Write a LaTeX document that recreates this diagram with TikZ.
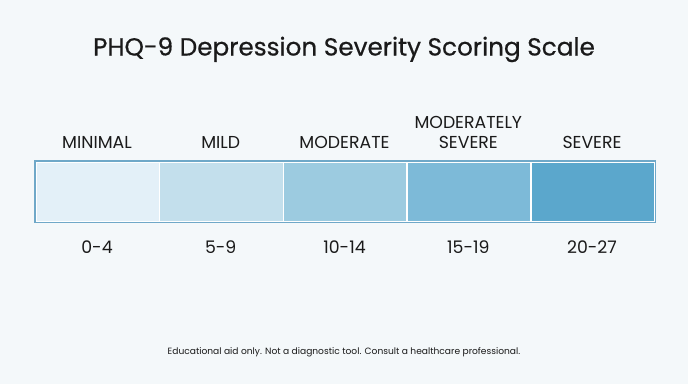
\documentclass[tikz,border=0pt]{standalone}
\usepackage{fontspec}
\setmainfont{Poppins}
\newfontfamily\titlefont[FakeBold=0.6]{Poppins}
\definecolor{bg}{HTML}{F4F8FA}
\definecolor{sA}{HTML}{E3F0F8}
\definecolor{sB}{HTML}{C3DFEC}
\definecolor{sC}{HTML}{9CCBE0}
\definecolor{sD}{HTML}{7DBAD8}
\definecolor{sE}{HTML}{5BA7CC}
\definecolor{frame}{HTML}{6FA8C8}
\definecolor{ink}{HTML}{1A1A1A}
\begin{document}
\begin{tikzpicture}[x=1pt,y=-1pt,
  seg/.style={draw=white,line width=1.5pt,minimum width=123.8pt,minimum height=60pt,inner sep=0pt,anchor=north west},
  cat/.style={font=\fontsize{17.3}{19}\selectfont,text=ink,anchor=base,align=center},
  rng/.style={font=\fontsize{17.3}{19}\selectfont,text=ink,anchor=base}]
\fill[bg] (0,0) rectangle (688,384);
\useasboundingbox (0,0) rectangle (688,384);
\node[font=\titlefont\fontsize{24.7}{28}\selectfont,text=ink,anchor=base] (title) at (344,55.5) {PHQ-9 Depression Severity Scoring Scale};
\node[seg,fill=sA] (s1) at (35,161) {};
\node[seg,fill=sB] (s2) at (158.8,161) {};
\node[seg,fill=sC] (s3) at (282.6,161) {};
\node[seg,fill=sD] (s4) at (406.4,161) {};
\node[seg,fill=sE] (s5) at (530.2,161) {};
\draw[frame,line width=1.8pt] (s1.north west) rectangle (s5.south east);
\node[cat] (c1) at (97,148) {MINIMAL};
\node[cat] (c2) at (220.7,148) {MILD};
\node[cat] (c3) at (344.5,148) {MODERATE};
\node[cat] (c4b) at (468.3,148) {SEVERE};
\node[cat] (c4a) at (468.3,128) {MODERATELY};
\node[cat] (c5) at (592,148) {SEVERE};
\node[rng] (r1) at (97,253) {0-4};
\node[rng] (r2) at (220.7,253) {5-9};
\node[rng] (r3) at (344.5,253) {10-14};
\node[rng] (r4) at (468.3,253) {15-19};
\node[rng] (r5) at (592,253) {20-27};
\node[font=\fontsize{9.1}{11}\selectfont,text=ink,anchor=base] (foot) at (344,354) {Educational aid only. Not a diagnostic tool. Consult a healthcare professional.};
\end{tikzpicture}
\end{document}
